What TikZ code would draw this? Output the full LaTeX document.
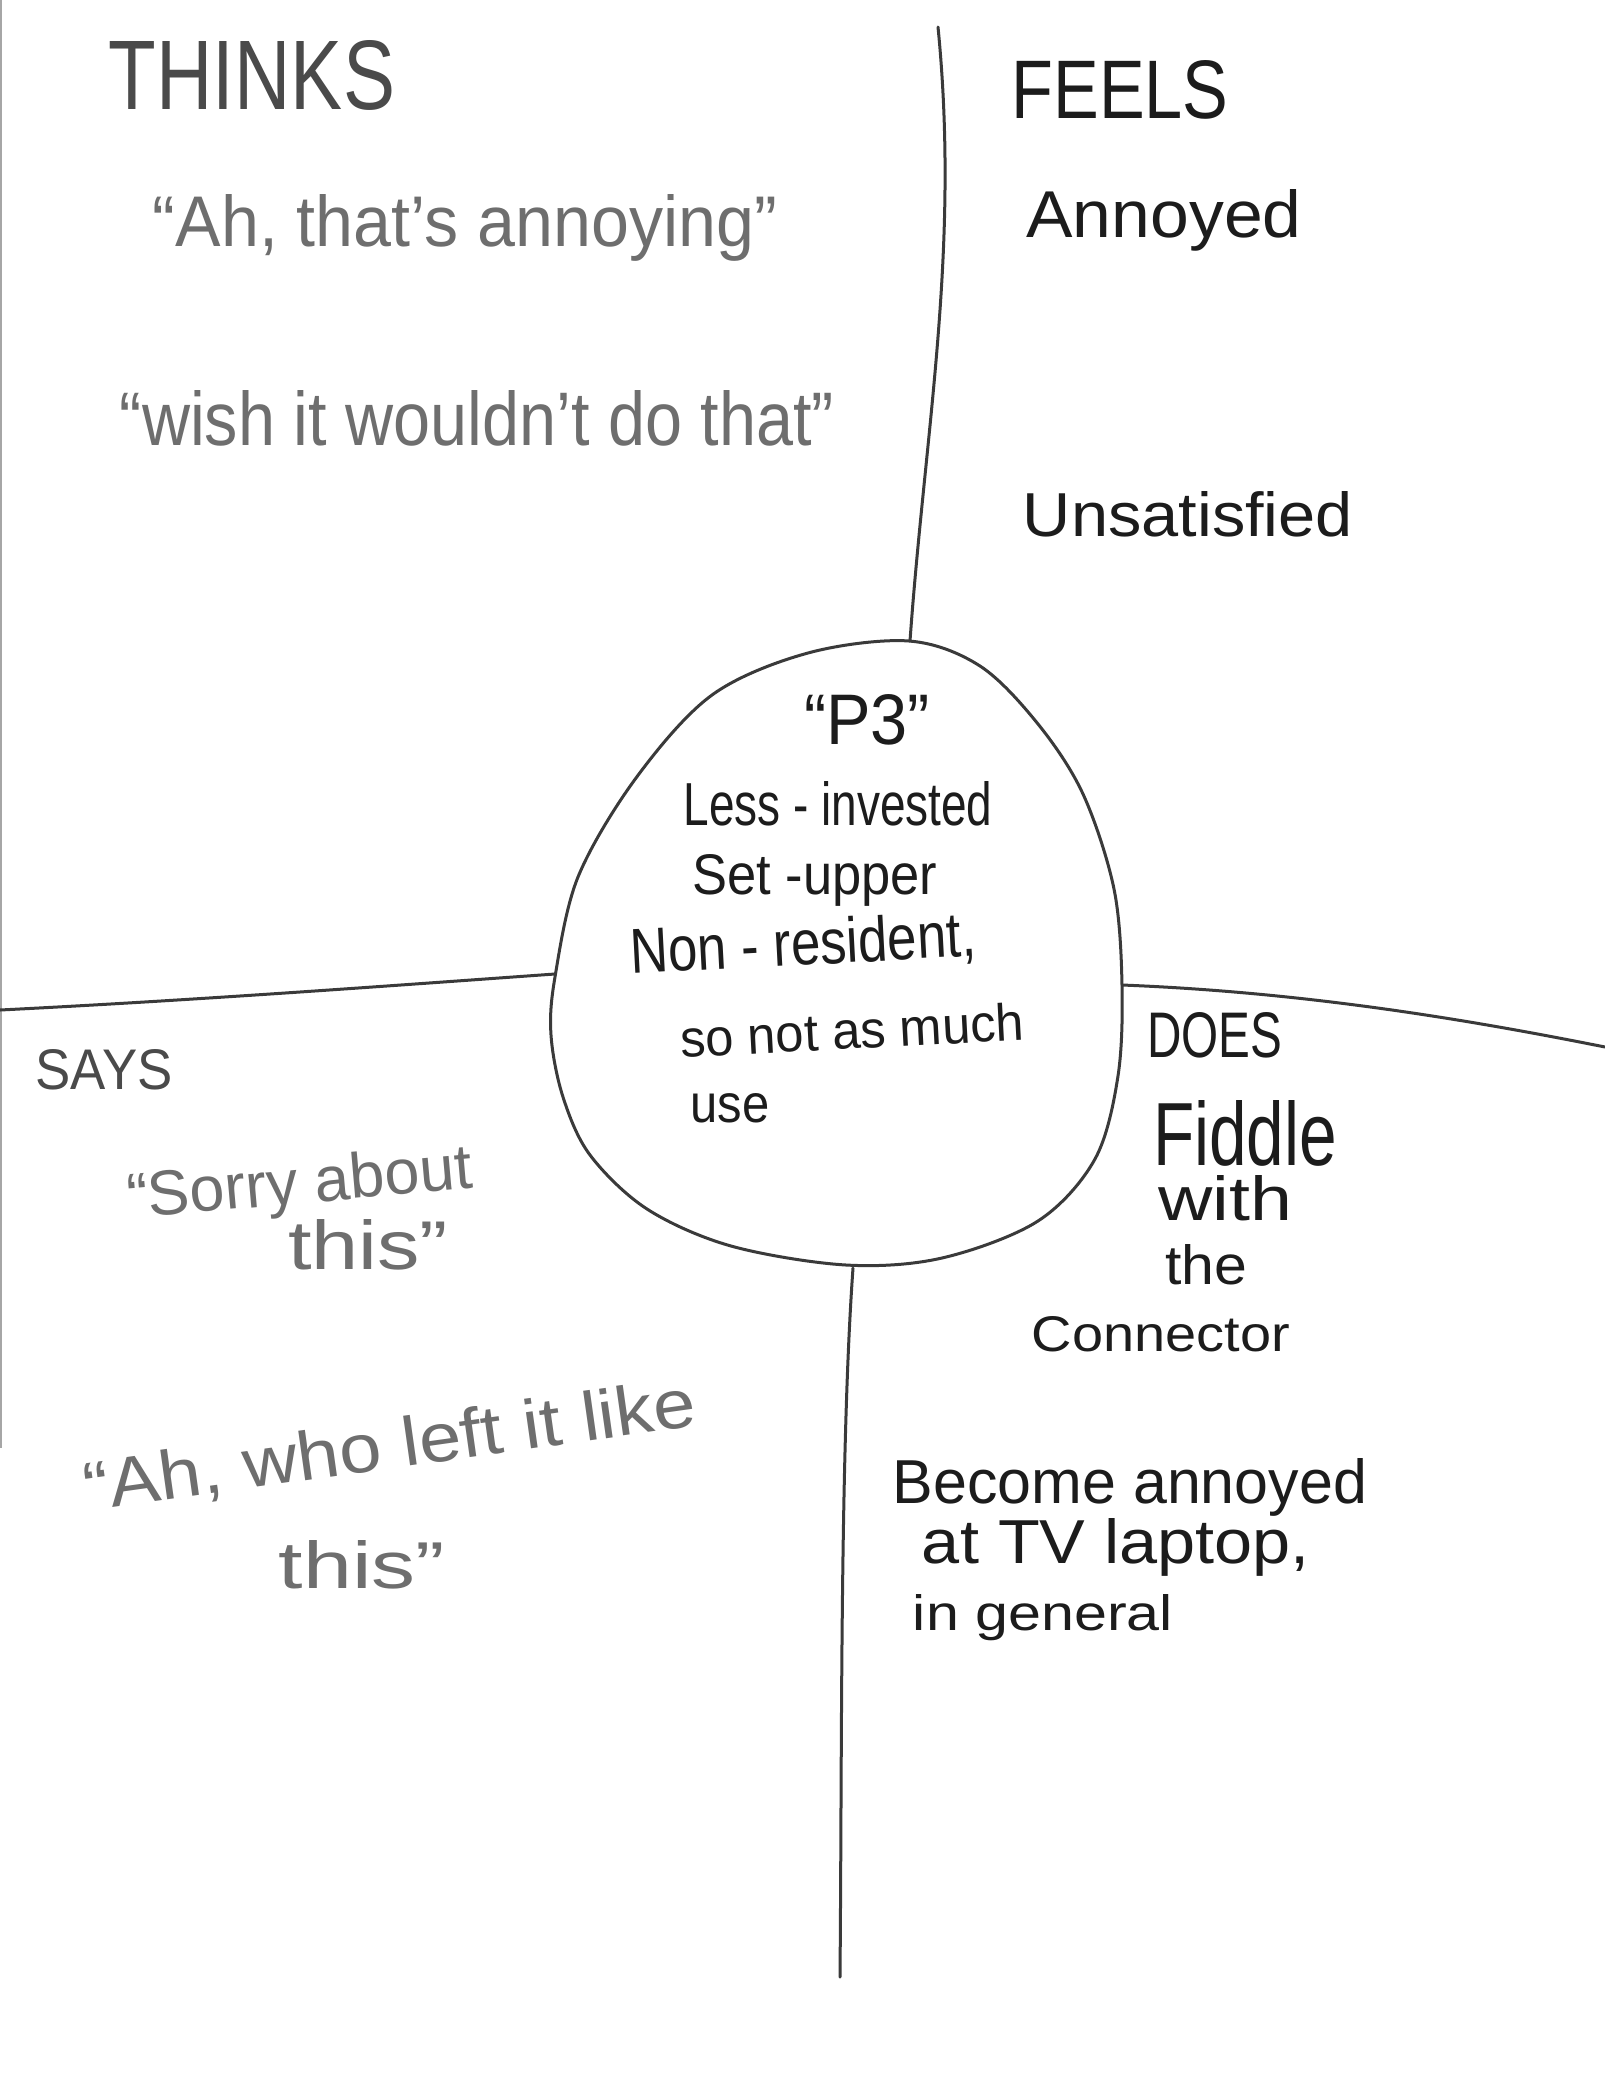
\documentclass[tikz,border=0pt]{standalone}
\usepackage{fontspec}
\setmainfont{Liberation Sans}
\usepackage{graphicx}
\newlength\pxu
\setlength\pxu{0.5pt}
% set a line of text to a given width and height (in picture units)
\newcommand\fitwh[3]{\resizebox{#1\pxu}{#2\pxu}{#3}}
\definecolor{pencil}{HTML}{6E6E6E}
\definecolor{pencildark}{HTML}{4A4A4A}
\definecolor{ink}{HTML}{1C1C1C}
\definecolor{stroke}{HTML}{3A3A3A}
\begin{document}
\begin{tikzpicture}[x=0.5pt,y=-0.5pt,
  divider/.style={draw=stroke,line width=1.5pt,line cap=round},
  graytext/.style={text=pencil,inner sep=0pt,anchor=center},
  inktext/.style={text=ink,inner sep=0pt,anchor=center},
  heading/.style={text=pencildark,inner sep=0pt,anchor=center}]
\useasboundingbox[fill=white] (0,0) rectangle (1605,2083);

% paper edge on the left
\draw[draw=black!35,line width=1pt] (1,0) -- (1,1448);

% central persona blob
\draw[divider] plot[smooth cycle,tension=0.55] coordinates {
  (909,641) (980,666) (1038,724) (1083,794) (1114,889) (1122,985)
  (1118,1076) (1095,1159) (1038,1221) (942,1258) (846,1265) (731,1246)
  (647,1209) (590,1155) (563,1097) (551,1035) (555,977) (578,877)
  (636,778) (712,695) (808,653)};
\coordinate (blobtop) at (910,641);
\coordinate (blobleft) at (555,974);
\coordinate (blobright) at (1122,985);
\coordinate (blobbottom) at (853,1268);

% quadrant dividers
\coordinate (topend) at (938,27);
\coordinate (leftend) at (0,1010);
\coordinate (rightend) at (1605,1047);
\coordinate (bottomend) at (840,1977);
\draw[divider] (topend) .. controls (960,250) and (925,430) .. (blobtop);
\draw[divider] (leftend) .. controls (200,1000) and (400,985) .. (blobleft);
\draw[divider] (blobright) .. controls (1300,992) and (1460,1018) .. (rightend);
\draw[divider] (blobbottom) .. controls (840,1450) and (842,1750) .. (bottomend);

% THINKS
\node[heading] (thinks) at (252,75) {\fitwh{286}{69}{THINKS}};
\node[graytext] (th1) at (465,228) {\fitwh{624}{52}{“Ah, that’s annoying”}};
\node[graytext] (th2) at (477,418) {\fitwh{714}{55}{“wish it wouldn’t do that”}};

% FEELS
\node[inktext] (feels) at (1120,90) {\fitwh{217}{58}{FEELS}};
\node[inktext] (fe1) at (1164,220) {\fitwh{275}{48}{Annoyed}};
\node[inktext] (fe2) at (1188,514) {\fitwh{330}{45}{Unsatisfied}};

% persona
\node[inktext] (p3) at (867,720) {\fitwh{126}{50}{“P3”}};
\node[inktext] (pa) at (838,804) {\fitwh{309}{44}{Less - invested}};
\node[inktext] (pb) at (815,880) {\fitwh{245}{40}{Set -upper}};
\node[inktext,rotate=3] (pc) at (803,946) {\fitwh{346}{46}{Non - resident,}};
\node[inktext,rotate=3] (pd) at (852,1030) {\fitwh{344}{38}{so not as much}};
\node[inktext] (pe) at (730,1108) {\fitwh{79}{29}{use}};

% SAYS
\node[heading] (says) at (104,1070) {\fitwh{137}{40}{SAYS}};
\node[graytext,rotate=5] (sa1) at (300,1187) {\fitwh{346}{46}{“Sorry about}};
\node[graytext] (sa2) at (368,1245) {\fitwh{160}{50}{this”}};
\node[graytext,rotate=8] (sa3) at (390,1448) {\fitwh{616}{50}{“Ah, who left it like}};
\node[graytext] (sa4) at (362,1565) {\fitwh{166}{48}{this”}};

% DOES
\node[inktext] (does) at (1215,1035) {\fitwh{135}{45}{DOES}};
\node[inktext] (do1) at (1245,1133) {\fitwh{184}{65}{Fiddle}};
\node[inktext] (do2) at (1225,1198) {\fitwh{134}{45}{with}};
\node[inktext] (do3) at (1206,1265) {\fitwh{82}{40}{the}};
\node[inktext] (do4) at (1161,1334) {\fitwh{258}{35}{Connector}};
\node[inktext] (do5) at (1130,1487) {\fitwh{474}{45}{Become annoyed}};
\node[inktext] (do6) at (1116,1547) {\fitwh{388}{45}{at TV laptop,}};
\node[inktext] (do7) at (1043,1618) {\fitwh{260}{36}{in general}};
\end{tikzpicture}
\end{document}
